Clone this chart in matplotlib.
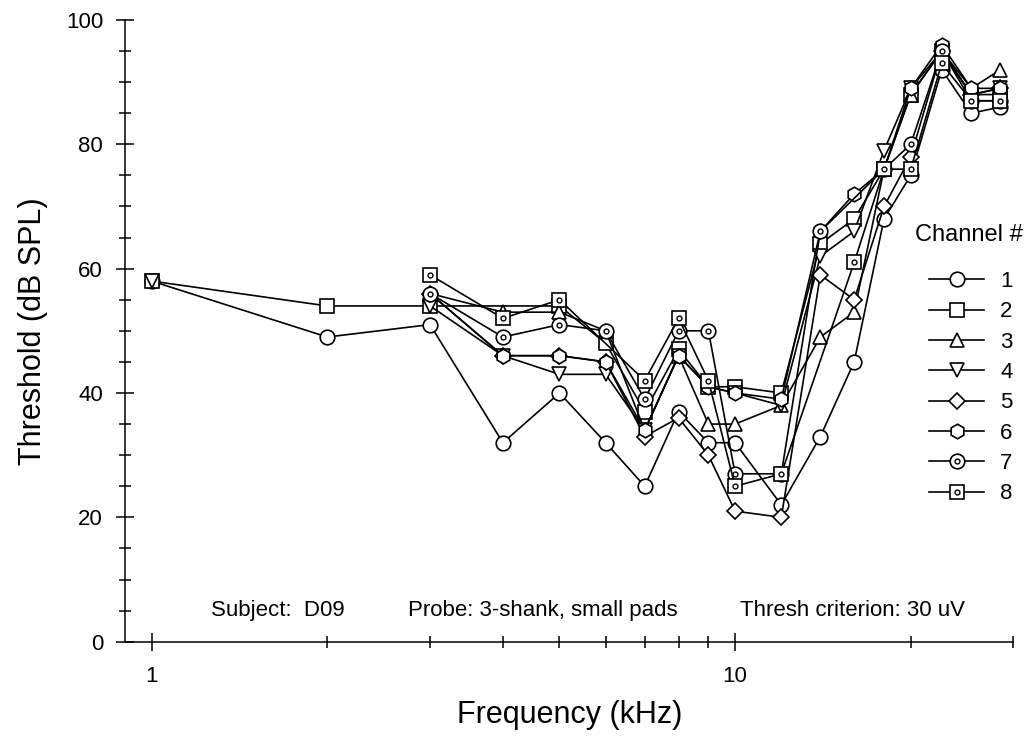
import numpy as np
import matplotlib.pyplot as plt
from matplotlib.ticker import FixedLocator, NullFormatter, FixedFormatter, MultipleLocator
from matplotlib.legend_handler import HandlerTuple

plt.rcParams['font.family'] = ['Liberation Sans', 'DejaVu Sans']

# nan = frequency skipped (line drawn across it), None = line broken
nan = np.nan
freqs = [1, 2, 3, 4, 5, 6, 7, 8, 9, 10, 12, 14, 16, 18, 20, 22.6, 25.4, 28.5]

ch1 = [58, 49, 51, 32, 40, 32, 25, 37, 32, 32, 22, 33, 45, 68, 75, 92, 85, 86]
ch2 = [58, 54, 54, nan, 54, 48, 37, 47, 41, 41, 40, 64, 68, 76, 88, 95, 88, 88]
ch3 = [nan, nan, 56, 53, 53, 50, 34, 46, 35, 35, 38, 49, 53, 76, 88, 95, 89, 92]
ch4 = [58, None, 54, 46, 43, 43, 34, 46, 41, 40, 38, 62, 66, 79, 89, 95, 88, 89]
ch5 = [nan, nan, 56, 46, 46, 45, 33, 36, 30, 21, 20, 59, 55, 70, 78, 95, 88, 89]
ch6 = [nan, nan, 56, 46, 46, 45, 34, 46, 41, 40, 39, 66, 72, 76, 89, 96, 89, 89]
ch7 = [nan, nan, 56, 49, 51, 50, 39, 50, 50, 27, 27, 66, nan, 76, 80, 95, 87, 87]
ch8 = [nan, nan, 59, 52, 55, nan, 42, 52, 42, 25, 27, nan, 61, 76, 76, 93, 87, 87]

channels = [ch1, ch2, ch3, ch4, ch5, ch6, ch7, ch8]
labels = ['1', '2', '3', '4', '5', '6', '7', '8']
markers = ['o', 's', '^', 'v', 'D', 'h', 'o', 's']
sizes = [10.5, 9.5, 10.5, 10.5, 8.5, 10.5, 10.5, 9.5]


def series(vals):
    xs, ys = [], []
    for f, v in zip(freqs, vals):
        if v is None:
            xs.append(f)
            ys.append(np.nan)
        elif not np.isnan(v):
            xs.append(f)
            ys.append(v)
    return np.array(xs, dtype=float), np.array(ys, dtype=float)


fig = plt.figure(figsize=(10.31, 7.39), dpi=100)
ax = fig.add_axes([0.1212, 0.1317, 0.8618, 0.8413])

handles = []
for vals, m, ms, lab in zip(channels, markers, sizes, labels):
    x, y = series(vals)
    ln, = ax.plot(x, y, color='black', lw=1.2, marker=m, ms=ms,
                  mfc='white', mec='black', mew=1.2)
    h = ln
    if lab in ('7', '8'):
        dot, = ax.plot(x, y, ls='none', marker='o', ms=3.5,
                       mfc='white', mec='black', mew=1.0)
        h = (ln, dot)
    handles.append(h)

ax.set_xscale('log')
ax.set_xlim(0.9, 30)
ax.set_ylim(0, 100)

ax.xaxis.set_major_locator(FixedLocator([1, 10]))
ax.xaxis.set_major_formatter(FixedFormatter(['1', '10']))
ax.xaxis.set_minor_locator(FixedLocator([2, 3, 4, 5, 6, 7, 8, 9, 20, 30]))
ax.xaxis.set_minor_formatter(NullFormatter())
ax.yaxis.set_major_locator(MultipleLocator(20))
ax.yaxis.set_minor_locator(MultipleLocator(5))

ax.tick_params(which='major', direction='inout', length=13.5, width=1.1, labelsize=16)
ax.tick_params(which='minor', direction='inout', length=8, width=1.1)
ax.tick_params(axis='x', which='major', pad=11)
ax.tick_params(axis='y', which='major', pad=9)

for s in ('top', 'right'):
    ax.spines[s].set_visible(False)
for s in ('left', 'bottom'):
    ax.spines[s].set_linewidth(1.1)
    ax.spines[s].set_zorder(0)

ax.set_xlabel('Frequency (kHz)', fontsize=22, labelpad=9)
ax.set_ylabel('Threshold (dB SPL)', fontsize=22, labelpad=13)

ax.text(0.097, 0.0405, 'Subject:  D09', transform=ax.transAxes, fontsize=16, va='baseline')
ax.text(0.318, 0.0405, 'Probe: 3-shank, small pads', transform=ax.transAxes, fontsize=16, va='baseline')
ax.text(0.692, 0.0405, 'Thresh criterion: 30 uV', transform=ax.transAxes, fontsize=16, va='baseline')

fig.text(969 / 1031, 1 - 235 / 739, 'Channel #', fontsize=17, ha='center', va='center')
ax.legend(handles, labels, handler_map={tuple: HandlerTuple(ndivide=1)},
          loc='upper left', bbox_to_anchor=(929 / 1031, 1 - 271 / 739),
          bbox_transform=fig.transFigure, frameon=False, fontsize=16,
          handlelength=2.48, handletextpad=0.72, labelspacing=0.42, numpoints=1,
          borderpad=0, borderaxespad=0)

fig.savefig('out.png', dpi=100)
